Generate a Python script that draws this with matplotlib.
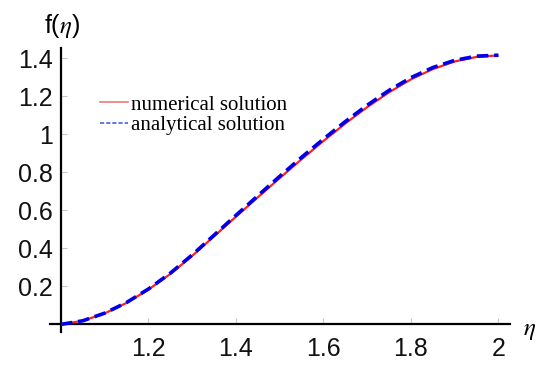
import matplotlib
matplotlib.use('Agg')
import matplotlib.pyplot as plt
from matplotlib.lines import Line2D

# values
eta = [1.0, 1.05, 1.1, 1.15, 1.2, 1.25, 1.3, 1.35, 1.4, 1.45, 1.5,
       1.55, 1.6, 1.65, 1.7, 1.75, 1.8, 1.85, 1.9, 1.95, 2.0]
f_numerical = [0.0, 0.019, 0.058, 0.113, 0.183, 0.265, 0.36, 0.463, 0.566, 0.668, 0.769,
               0.868, 0.964, 1.056, 1.142, 1.22, 1.288, 1.342, 1.382, 1.406, 1.414]
f_analytical = [0.0, 0.019, 0.059, 0.115, 0.186, 0.269, 0.365, 0.469, 0.573, 0.676, 0.778,
                0.878, 0.974, 1.066, 1.152, 1.23, 1.297, 1.35, 1.388, 1.41, 1.415]

xticks = [1.2, 1.4, 1.6, 1.8, 2.0]
xticklabels = ['1.2', '1.4', '1.6', '1.8', '2']
yticks = [0.2, 0.4, 0.6, 0.8, 1.0, 1.2, 1.4]
yticklabels = ['0.2', '0.4', '0.6', '0.8', '1', '1.2', '1.4']

plt.rcParams['font.family'] = ['Liberation Sans', 'DejaVu Sans']
plt.rcParams['mathtext.fontset'] = 'stix'

fig = plt.figure(figsize=(5.5, 3.69), dpi=100)
ax = fig.add_axes([0.0909, 0.1003, 0.836, 0.7697])

ax.plot(eta, f_numerical, color='#ff2020', lw=1.6, solid_capstyle='butt', zorder=3)
ax.plot(eta, f_analytical, color='#0000e8', lw=2.6, ls=(0, (3.2, 1.6)), zorder=4)

ax.set_xlim(0.975, 2.026)
ax.set_ylim(-0.04, 1.453)

ax.spines['left'].set_position(('data', 1.0))
ax.spines['bottom'].set_position(('data', 0.0))
ax.spines['top'].set_visible(False)
ax.spines['right'].set_visible(False)
for s in ['left', 'bottom']:
    ax.spines[s].set_linewidth(1.6)

ax.set_xticks(xticks)
ax.set_xticklabels(xticklabels)
ax.set_yticks(yticks)
ax.set_yticklabels(yticklabels)
ax.tick_params(axis='both', direction='in', length=4, width=0.8, color='#c8c8c8',
               labelsize=18, labelcolor='#111111')
ax.tick_params(axis='y', pad=6)
ax.tick_params(axis='x', pad=9)

fig.text(0.113, 0.93, r'f($\eta$)', fontsize=18, ha='center', va='center')
fig.text(0.962, 0.105, r'$\eta$', fontsize=18, ha='center', va='center')

handles = [Line2D([], [], color='#f07878', lw=1.2),
           Line2D([], [], color='#4a5ee8', lw=1.2, ls=(0, (2.5, 1.2)))]
leg = ax.legend(handles, ['numerical solution', 'analytical solution'],
                loc='upper left', bbox_to_anchor=(0.163, 0.771), bbox_transform=fig.transFigure,
                frameon=False, borderpad=0, handlelength=1.35, handletextpad=0.15,
                labelspacing=0.05, prop={'family': 'Liberation Serif', 'size': 15})

fig.savefig('out.png', dpi=100)
